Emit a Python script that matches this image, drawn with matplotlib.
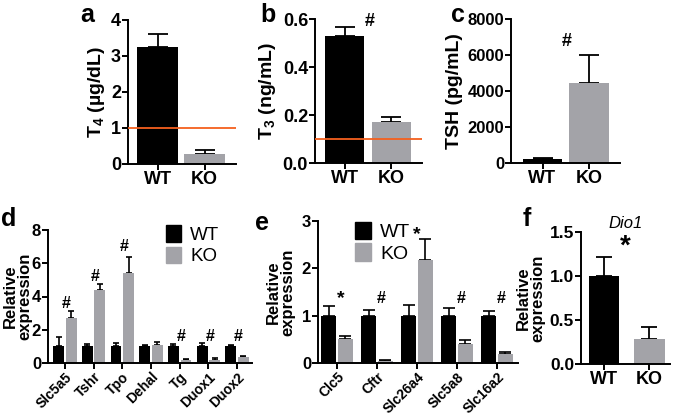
import matplotlib
matplotlib.use("Agg")
import matplotlib.pyplot as plt
from matplotlib.patches import Patch

plt.rcParams['font.family'] = ['Liberation Sans', 'DejaVu Sans']
plt.rcParams['font.weight'] = 'bold'
plt.rcParams['mathtext.fontset'] = 'custom'
plt.rcParams['mathtext.rm'] = 'Liberation Sans:bold'
plt.rcParams['mathtext.bf'] = 'Liberation Sans:bold'
plt.rcParams['mathtext.it'] = 'Liberation Sans:bold:italic'
plt.rcParams['mathtext.default'] = 'bf'

# ---------------- data ----------------
groups = ["WT", "KO"]
t4_mean = [3.25, 0.28]
t4_err = [0.35, 0.12]
t3_mean = [0.53, 0.17]
t3_err = [0.035, 0.02]
tsh_mean = [200, 4450]
tsh_err = [70, 1550]

d_genes = ["Slc5a5", "Tshr", "Tpo", "Dehal", "Tg", "Duox1", "Duox2"]
d_wt = [1.0, 1.0, 1.0, 1.0, 1.0, 1.0, 1.0]
d_wt_err = [0.55, 0.15, 0.2, 0.08, 0.12, 0.18, 0.1]
d_ko = [2.72, 4.38, 5.42, 1.08, 0.2, 0.2, 0.35]
d_ko_err = [0.38, 0.37, 0.93, 0.2, 0.05, 0.08, 0.05]
d_marks = ["#", "#", "#", "", "#", "#", "#"]
d_mark_y = [3.6, 5.2, 7.0, 0, 1.6, 1.6, 1.6]

e_genes = ["Clc5", "Cftr", "Slc26a4", "Slc5a8", "Slc16a2"]
e_wt = [1.0, 1.0, 1.0, 1.0, 1.0]
e_wt_err = [0.2, 0.13, 0.23, 0.16, 0.1]
e_ko = [0.5, 0.05, 2.18, 0.4, 0.2]
e_ko_err = [0.08, 0.015, 0.44, 0.08, 0.03]
e_marks = ["*", "#", "*", "#", "#"]
e_mark_y = [1.37, 1.37, 2.72, 1.37, 1.37]

f_mean = [1.0, 0.28]
f_err = [0.22, 0.14]

BLACK = "#000000"
GRAY = "#a3a3a8"
ORANGE = "#f4601e"
W, H = 675, 417

fig = plt.figure(figsize=(6.75, 4.17), dpi=100)


def px_axes(l, r, t, b):
    return fig.add_axes([l / W, 1 - b / H, (r - l) / W, (b - t) / H])


def style(ax, fs, xfs=None):
    for s in ["top", "right"]:
        ax.spines[s].set_visible(False)
    for s in ["left", "bottom"]:
        ax.spines[s].set_linewidth(1.4)
    ax.tick_params(width=1.4, length=4, labelsize=fs, pad=1)
    for lab in ax.get_xticklabels() + ax.get_yticklabels():
        lab.set_fontweight('bold')
    if xfs:
        for lab in ax.get_xticklabels():
            lab.set_fontsize(xfs)


def ylab(ax, text, x, fs, ls=1.0):
    ax.set_ylabel(text, fontsize=fs, fontweight='bold', linespacing=ls)
    ax.yaxis.set_label_coords(x, 0.5)


def two_bar(ax, means, errs, width, cap, xlim):
    xs = list(range(len(means)))
    ax.bar(xs, means, width=width, color=[BLACK, GRAY], zorder=2)
    for x, m, e in zip(xs, means, errs):
        ax.errorbar([x], [m], yerr=[[0], [e]], fmt='none', ecolor='black',
                    elinewidth=1.3, capsize=cap, capthick=1.3, zorder=1)
    ax.set_xlim(*xlim)
    ax.set_xticks(xs)
    ax.set_xticklabels(groups)


# ---- a ----
ax = px_axes(128, 236, 20, 164)
two_bar(ax, t4_mean, t4_err, 0.87, 7, (-0.63, 1.67))
ax.axhline(1.0, color=ORANGE, lw=1.3, zorder=3)
ax.set_ylim(0, 4)
ax.set_yticks([0, 1, 2, 3, 4])
ylab(ax, r"T$_4$ (µg/dL)", -0.194, 14)
style(ax, 13)

# ---- b ----
ax = px_axes(315, 422, 19, 163)
two_bar(ax, t3_mean, t3_err, 0.83, 7, (-0.63, 1.65))
ax.axhline(0.1, color=ORANGE, lw=1.3, zorder=3)
ax.set_ylim(0, 0.6)
ax.set_yticks([0.0, 0.2, 0.4, 0.6])
ax.set_yticklabels(["0.0", "0.2", "0.4", "0.6"])
ylab(ax, r"T$_3$ (ng/mL)", -0.346, 14)
ax.text(0.54, 0.59, "#", ha='center', va='center', fontsize=13, fontweight='bold')
style(ax, 13)

# ---- c ----
ax = px_axes(511, 620, 19, 163)
two_bar(ax, tsh_mean, tsh_err, 0.85, 7, (-0.68, 1.67))
ax.set_ylim(0, 8000)
ax.set_yticks([0, 2000, 4000, 6000, 8000])
ylab(ax, "TSH (pg/mL)", -0.44, 14)
ax.text(0.53, 6750, "#", ha='center', va='center', fontsize=13, fontweight='bold')
style(ax, 12, 13)


def grouped(ax, genes, wt, wte, ko, koe, off, width, cap, xlim):
    xs = list(range(len(genes)))
    xw = [x - off for x in xs]
    xk = [x + off for x in xs]
    ax.bar(xw, wt, width=width, color=BLACK, zorder=2, label="WT")
    ax.bar(xk, ko, width=width, color=GRAY, zorder=2, label="KO")
    ax.errorbar(xw, wt, yerr=[[0] * len(wt), wte], fmt='none', ecolor='black',
                elinewidth=1.2, capsize=cap, capthick=1.2, zorder=1)
    ax.errorbar(xk, ko, yerr=[[0] * len(ko), koe], fmt='none', ecolor='black',
                elinewidth=1.2, capsize=cap, capthick=1.2, zorder=1)
    ax.set_xlim(*xlim)
    ax.set_xticks(xs)
    ax.set_xticklabels(genes, rotation=45, ha='right', rotation_mode='anchor',
                       fontweight='bold')
    return xs


# ---- d ----
ax = px_axes(48, 252, 230, 363)
xs = grouped(ax, d_genes, d_wt, d_wt_err, d_ko, d_ko_err, 0.22, 0.38, 2, (-0.59, 6.52))
ax.set_ylim(0, 8)
ax.set_yticks([0, 2, 4, 6, 8])
ylab(ax, "Relative\nexpression", -0.075, 12, 0.95)
for x, m, y in zip(xs, d_marks, d_mark_y):
    if m:
        ax.text(x + 0.05, y, m, ha='center', va='center', fontsize=11.5, fontweight='bold')
style(ax, 12, 10)
ax.legend(handles=[Patch(color=BLACK, label="WT"), Patch(color=GRAY, label="KO")],
          loc='upper left', bbox_to_anchor=(166 / W, 1 - 225 / H),
          bbox_transform=fig.transFigure, frameon=False,
          prop={'size': 13.5, 'weight': 'normal'}, handlelength=0.8,
          handleheight=1.0, handletextpad=0.5, labelspacing=0.15,
          borderpad=0, borderaxespad=0)

# ---- e ----
ax = px_axes(318, 518, 221, 363)
xs = grouped(ax, e_genes, e_wt, e_wt_err, e_ko, e_ko_err, 0.205, 0.37, 4, (-0.475, 4.525))
ax.set_ylim(0, 3)
ax.set_yticks([0, 1, 2, 3])
ylab(ax, "Relative\nexpression", -0.115, 12, 0.95)
for x, m, y in zip(xs, e_marks, e_mark_y):
    ax.text(x + 0.1 if x != 2 else x, y, m, ha='center', va='center',
            fontsize=14 if m == "*" else 11.5, fontweight='bold')
style(ax, 12, 10)
ax.legend(handles=[Patch(color=BLACK, label="WT"), Patch(color=GRAY, label="KO")],
          loc='upper left', bbox_to_anchor=(355 / W, 1 - 222 / H),
          bbox_transform=fig.transFigure, frameon=False,
          prop={'size': 14, 'weight': 'normal'}, handlelength=0.8,
          handleheight=1.0, handletextpad=0.5, labelspacing=0.1,
          borderpad=0, borderaxespad=0)

# ---- f ----
ax = px_axes(581, 670, 232, 364)
two_bar(ax, f_mean, f_err, 0.66, 5.5, (-0.5, 1.45))
ax.set_ylim(0, 1.5)
ax.set_yticks([0.0, 0.5, 1.0, 1.5])
ax.set_yticklabels(["0.0", "0.5", "1.0", "1.5"])
ylab(ax, "Relative\nexpression", -0.40, 12, 0.95)
ax.set_title("Dio1", fontsize=12, fontweight='normal', style='italic', pad=3)
ax.text(0.48, 1.33, "*", ha='center', va='center', fontsize=20, fontweight='bold')
style(ax, 12.5, 13)

# panel letters
for letter, x, y in [("a", 87, 15), ("b", 268, 15), ("c", 458, 15),
                     ("d", 9, 219), ("e", 262, 223), ("f", 527, 219)]:
    fig.text(x / W, 1 - y / H, letter, ha='center', va='center',
             fontsize=18, fontweight='bold')

fig.savefig("out.png", dpi=100)
